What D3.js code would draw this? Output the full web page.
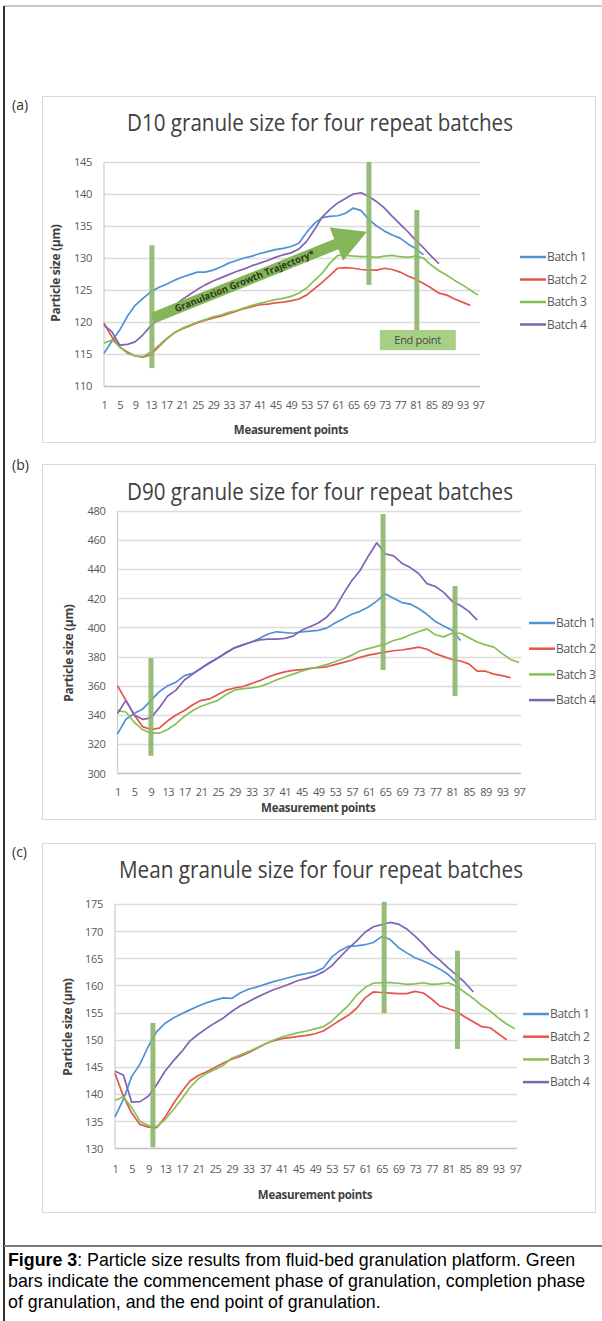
<!DOCTYPE html>
<html>
<head>
<meta charset="utf-8">
<script src="https://cdn.jsdelivr.net/npm/d3@7"></script>
<style>
body { margin: 0; background: #fff; }
svg { display: block; }
</style>
</head>
<body>
<script>
var points = [1,3,5,7,9,11,13,15,17,19,21,23,25,27,29,31,33,35,37,39,41,43,45,47,49,
	51,53,55,57,59,61,63,65,67,69,71,73,75,77,79,81,83,85,87,89,91,93,95,97]
var xTicks = [1,5,9,13,17,21,25,29,33,37,41,45,49,53,57,61,65,69,73,77,81,85,89,93,97]
var batchNames = ["Batch 1","Batch 2","Batch 3","Batch 4"]
var batchColors = ["#4e91d6","#e4564a","#86c155","#8064b4"]

// (a) D10
var d10Ticks = [110,115,120,125,130,135,140,145]
var d10Batch1 = [115.1,117.0,118.7,120.9,122.6,123.7,124.7,125.4,125.9,126.5,127.0,127.4,127.8,127.8,128.1,128.6,129.2,129.6,130.0,130.3,130.7,131.0,131.3,131.5,131.8,132.3,134.0,135.4,136.3,136.5,136.6,137.0,137.8,137.4,136.0,135.0,134.2,133.6,133.1,132.2,131.5,130.5]
var d10Batch2 = [119.8,117.7,116.1,115.3,114.7,114.5,114.9,116.1,117.3,118.3,118.9,119.4,119.9,120.3,120.6,120.9,121.3,121.7,122.1,122.4,122.7,122.8,123.0,123.1,123.3,123.6,124.2,125.2,126.2,127.3,128.4,128.5,128.4,128.2,128.1,128.1,128.4,128.2,127.8,127.2,126.7,126.0,125.3,124.5,124.2,123.6,123.1,122.6]
var d10Batch3 = [116.7,117.2,116.2,115.1,114.7,114.6,115.3,116.3,117.4,118.3,119.0,119.5,120.0,120.4,120.8,121.1,121.5,121.8,122.2,122.6,122.9,123.2,123.5,123.7,124.0,124.5,125.3,126.5,127.6,129.2,130.4,130.4,130.3,130.2,130.2,130.1,130.3,130.4,130.2,130.1,130.3,130.0,128.9,128.0,127.3,126.5,125.8,125.0,124.2]
var d10Batch4 = [119.5,118.5,116.4,116.5,116.9,118.0,119.4,120.4,121.2,122.5,123.5,124.3,125.1,125.8,126.4,126.9,127.4,127.9,128.3,128.8,129.2,129.6,130.1,130.5,130.8,131.4,132.6,134.4,136.4,137.6,138.6,139.3,140.0,140.2,139.6,138.8,137.8,136.5,135.3,134.1,132.8,131.6,130.3,129.1]
// green bars: [point, top, bottom]
var d10Bars = [[13.3,132,112.8],[69,145,125.8],[81.3,137.5,117.7]]

// (b) D90
var d90Ticks = [300,320,340,360,380,400,420,440,460,480]
var d90Batch1 = [327,337,341,344,350,356,360,362.5,367,368.5,372,375.5,379,383,386,388,390,392.5,395.5,397,396.5,396,397,397.5,398,399.5,403,406,409,411,414,418,423,420,417,416,413,409,404,401,398,391]
var d90Batch2 = [360,350,340,332,330,331,336,340,343,347,350,351,354,357,358.5,359.5,361.5,363.5,366,368,369.5,370.5,371,372,372.5,373,374.5,376,377.5,379.5,381,382,383,384,384.5,385.5,386.5,385,382,380,378,377,375,370,370,368,367,365.5]
var d90Batch3 = [343,342,335,330,327.5,327.5,330,334,339,343,346,348,350,354,357,358,358.5,359.5,361.5,364,366,368,370,371.5,373,374.5,376.5,378.5,381,384,385.5,387,388.5,391,392.5,395,397,399,395,393.5,396,396,393,390,388,386.5,382,378,376]
var d90Batch4 = [341,350,340,337,338,345,353,357,364,368,372,376,379,382.5,386,388,390,391.5,392,392,392.5,394,398,400.5,403,407,413,423,432,439,449,458,450.5,449,444,441,437,430,428,424,418,415,411,405]
var d90Bars = [[9,379,312],[64.5,477.7,370.8],[81.7,428.4,353]]

// (c) mean
var meanTicks = [130,135,140,145,150,155,160,165,170,175]
var meanBatch1 = [135.8,139,143.2,145.5,148.8,151.5,153,154,154.8,155.5,156.2,156.8,157.3,157.7,157.6,158.6,159.3,159.7,160.2,160.7,161.1,161.5,161.9,162.2,162.5,163.2,165.2,166.4,167.2,167.3,167.5,167.9,169,168.5,167,166,165.1,164.5,163.8,163,162,160.5]
var meanBatch2 = [143.8,139.6,136.5,134.4,133.9,133.8,135.7,138.2,140.4,142.4,143.4,144.1,144.9,145.7,146.4,146.9,147.6,148.4,149.2,149.8,150.2,150.4,150.6,150.8,151.1,151.6,152.6,153.6,154.5,155.8,157.7,158.8,158.7,158.6,158.5,158.5,158.9,158.6,157.5,156.2,155.7,155.2,154.2,153.3,152.4,152.2,151.1,150]
var meanBatch3 = [138.8,139.5,137.5,135,134.2,134,135.3,137.1,139.1,141.2,142.8,143.8,144.5,145.3,146.6,147.2,147.8,148.5,149.2,149.9,150.5,150.9,151.3,151.6,152,152.4,153.4,154.9,156.3,158.2,159.6,160.4,160.5,160.5,160.4,160.2,160.3,160.5,160.2,160.3,160.5,159.8,158.7,157.6,156.3,155.3,154,152.9,152]
var meanBatch4 = [144.2,143.5,138.5,138.6,139.6,141.7,144.2,146.1,147.8,149.8,151,152.1,153.1,154,155.2,156.2,157,157.8,158.5,159.2,159.7,160.3,160.9,161.3,161.8,162.5,163.6,165.2,166.8,168.2,169.8,170.8,171.2,171.6,171.3,170.4,169.1,167.6,165.9,164.6,163.2,161.9,160.5,158.8]
var meanBars = [[10.1,153.1,130.2],[65.6,175.4,154.9],[83.2,166.4,148.3]]

var font = "'Open Sans', sans-serif"

var svg = d3.select("body").append("svg")
	.attr("width", 602)
	.attr("height", 1321)

// page rules
svg.append("rect").attr("x", 4).attr("y", 5).attr("width", 598).attr("height", 2).attr("fill", "#c8c8c8")
svg.append("rect").attr("x", 3).attr("y", 6).attr("width", 2).attr("height", 1315).attr("fill", "#333")
svg.append("rect").attr("x", 4).attr("y", 1245).attr("width", 598).attr("height", 2).attr("fill", "#7a7a7a")

function drawPanel(p){
	var g = svg.append("g")

	g.append("text").attr("x", 12).attr("y", p.labelY).attr("font-family", font)
		.attr("font-size", 14).attr("fill", "#333").text(p.label)

	g.append("rect").attr("x", 42.5).attr("y", p.frame[0] + 0.5)
		.attr("width", 553).attr("height", p.frame[1] - p.frame[0])
		.attr("fill", "none").attr("stroke", "#d9d9d9")

	g.append("text").attr("x", p.titleX).attr("y", p.titleY)
		.attr("text-anchor", "middle").attr("font-family", font).attr("font-size", 23)
		.attr("fill", "#404040").attr("textLength", p.titleW).attr("lengthAdjust", "spacingAndGlyphs")
		.text(p.title)

	var x = d3.scaleLinear().domain([1, 97]).range(p.xRange)
	var y = d3.scaleLinear().domain(d3.extent(p.ticks)).range(p.yRange)

	// gridlines
	g.selectAll(".grid").data(p.ticks).enter().append("line")
		.attr("x1", p.xRange[0]).attr("x2", p.xRange[1] + 2)
		.attr("y1", function(d){ return Math.round(y(d)) + 0.5 })
		.attr("y2", function(d){ return Math.round(y(d)) + 0.5 })
		.attr("stroke", function(d, i){ return i == 0 ? "#bfbfbf" : "#dcdcdc" })
		.attr("stroke-width", 1.3)
	g.append("line").attr("x1", p.xRange[0]).attr("x2", p.xRange[0])
		.attr("y1", p.yRange[0]).attr("y2", p.yRange[1])
		.attr("stroke", "#d0d0d0").attr("stroke-width", 1.3)

	var yAxis = g.append("g").attr("transform", "translate(" + (p.xRange[0] - 12) + ",0)")
		.call(d3.axisLeft(y).tickValues(p.ticks).tickSize(0).tickPadding(0))
	var xAxis = g.append("g").attr("transform", "translate(0," + p.xLabelY + ")")
		.call(d3.axisBottom(x).tickValues(xTicks).tickSize(0).tickPadding(0).tickFormat(d3.format("d")))
	;[yAxis, xAxis].forEach(function(a){
		a.select(".domain").remove()
		a.selectAll("text").attr("font-family", font).attr("font-size", 11).attr("fill", "#595959")
	})
	xAxis.selectAll("text").attr("dy", 0).attr("letter-spacing", -0.5)
	yAxis.selectAll("text").attr("dy", "0.35em").attr("letter-spacing", -0.3)

	g.append("text").attr("x", (p.xRange[0] + p.xRange[1]) / 2).attr("y", p.xTitleY)
		.attr("text-anchor", "middle").attr("font-family", font).attr("font-size", 11.5)
		.attr("font-weight", "bold").attr("fill", "#404040").attr("letter-spacing", -0.3)
		.text("Measurement points")
	g.append("text").attr("transform", "translate(" + p.yTitleX + "," + p.yTitleY + ") rotate(-90)")
		.attr("text-anchor", "middle").attr("font-family", font).attr("font-size", 12)
		.attr("font-weight", "bold").attr("fill", "#404040").attr("letter-spacing", -0.3)
		.text("Particle size (\u00b5m)")

	var line = d3.line()
		.x(function(d, i){ return x(points[i]) })
		.y(function(d){ return y(d) })

	g.selectAll(".series").data(p.series).enter().append("path")
		.attr("d", line)
		.attr("fill", "none")
		.attr("stroke", function(d, i){ return batchColors[i] })
		.attr("stroke-width", 1.7)
		.attr("stroke-linejoin", "round")

	// green phase bars
	g.selectAll(".bar").data(p.bars).enter().append("rect")
		.attr("x", function(d){ return x(d[0]) - 2.5 })
		.attr("y", function(d){ return y(d[1]) })
		.attr("width", 5)
		.attr("height", function(d){ return y(d[2]) - y(d[1]) })
		.attr("fill", "#8db56a").attr("opacity", 0.9)

	// legend
	var lg = g.selectAll(".legend").data(batchNames).enter().append("g")
		.attr("transform", function(d, i){ return "translate(" + p.legendX + "," + (p.legendY + i * p.legendStep) + ")" })
	lg.append("line").attr("x1", 0).attr("x2", 26).attr("stroke-width", 2.5)
		.attr("stroke", function(d, i){ return batchColors[i] })
	lg.append("text").attr("x", 27).attr("dy", "0.35em").attr("font-family", font)
		.attr("font-size", 12).attr("fill", "#595959").attr("letter-spacing", -0.3)
		.text(function(d){ return d })

	return {g: g, x: x, y: y}
}

var a = drawPanel({
	label: "(a)", labelY: 110, frame: [96, 442],
	title: "D10 granule size for four repeat batches", titleX: 320, titleY: 131, titleW: 386,
	ticks: d10Ticks, xRange: [104, 478], yRange: [386, 162],
	xLabelY: 409, xTitleY: 434, yTitleX: 60, yTitleY: 273,
	series: [d10Batch1, d10Batch2, d10Batch3, d10Batch4], bars: d10Bars,
	legendX: 520, legendY: 257, legendStep: 22.5
})

// growth trajectory arrow and end point box on (a)
var tail = [a.x(13.5), a.y(120.6)], tip = [a.x(68.5), a.y(134.1)]
var ang = Math.atan2(tip[1] - tail[1], tip[0] - tail[0]) * 180 / Math.PI
var len = Math.hypot(tip[0] - tail[0], tip[1] - tail[1])
var arrow = a.g.append("g").attr("transform", "translate(" + tail[0] + "," + tail[1] + ") rotate(" + ang + ")")
arrow.append("path")
	.attr("d", "M0,-5.5 L" + (len - 33) + ",-5.5 L" + (len - 33) + ",-18 L" + len + ",0 L" + (len - 33) + ",18 L" + (len - 33) + ",5.5 L0,5.5 Z")
	.attr("fill", "#84b558")
arrow.append("text").attr("x", 99).attr("y", 0).attr("dy", "0.35em")
	.attr("text-anchor", "middle").attr("font-family", font).attr("font-size", 9.5)
	.attr("font-weight", "bold").attr("fill", "#2e3a22")
	.attr("textLength", 150).attr("lengthAdjust", "spacingAndGlyphs")
	.text("Granulation Growth Trajectory*")

a.g.append("rect").attr("x", a.x(71.8)).attr("y", a.y(118.75))
	.attr("width", a.x(91.3) - a.x(71.8)).attr("height", a.y(115.6) - a.y(118.75))
	.attr("fill", "#a7cf86")
a.g.append("text").attr("x", a.x(81.5)).attr("y", a.y(117.2)).attr("dy", "0.35em")
	.attr("text-anchor", "middle").attr("font-family", font).attr("font-size", 11)
	.attr("fill", "#4a4a4a").attr("letter-spacing", -0.3).text("End point")

drawPanel({
	label: "(b)", labelY: 470, frame: [464, 819],
	title: "D90 granule size for four repeat batches", titleX: 320, titleY: 500, titleW: 386,
	ticks: d90Ticks, xRange: [117.5, 519], yRange: [773.3, 510.7],
	xLabelY: 796, xTitleY: 812, yTitleX: 73, yTitleY: 653,
	series: [d90Batch1, d90Batch2, d90Batch3, d90Batch4], bars: d90Bars,
	legendX: 529, legendY: 623, legendStep: 25.7
})

drawPanel({
	label: "(c)", labelY: 857, frame: [843, 1212],
	title: "Mean granule size for four repeat batches", titleX: 321, titleY: 878, titleW: 404,
	ticks: meanTicks, xRange: [115, 515], yRange: [1148.3, 904],
	xLabelY: 1173, xTitleY: 1199, yTitleX: 72, yTitleY: 1027,
	series: [meanBatch1, meanBatch2, meanBatch3, meanBatch4], bars: meanBars,
	legendX: 523, legendY: 1014, legendStep: 22.7
})

// caption
var captionLines = [
	[["Figure 3", true], [": Particle size results from fluid-bed granulation platform. Green", false]],
	[["bars indicate the commencement phase of granulation, completion phase", false]],
	[["of granulation, and the end point of granulation.", false]]
]
captionLines.forEach(function(parts, i){
	var t = svg.append("text").attr("x", 8).attr("y", 1266 + i * 21)
		.attr("font-family", "'Liberation Sans', Arial, sans-serif").attr("font-size", 17.8).attr("fill", "#000")
	parts.forEach(function(s){
		t.append("tspan").attr("font-weight", s[1] ? "bold" : "normal").text(s[0])
	})
})
</script>
</body>
</html>
